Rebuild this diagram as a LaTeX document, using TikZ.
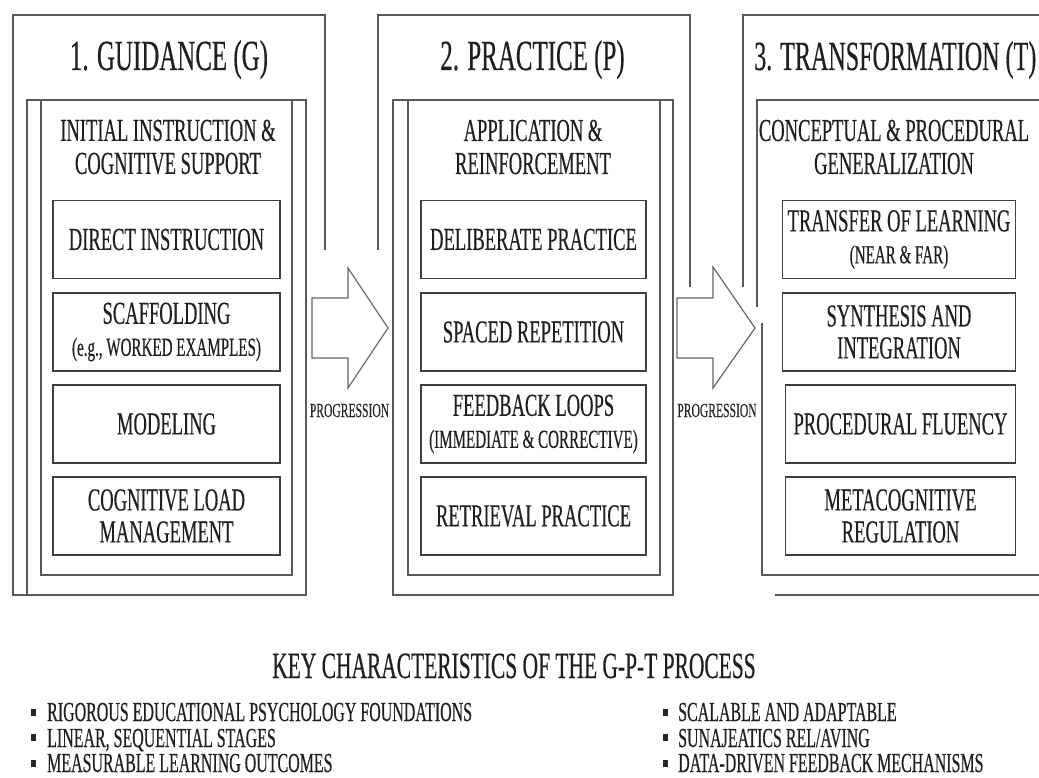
\documentclass[tikz,border=0pt]{standalone}
\usepackage{fontspec}
\setmainfont[FakeStretch=0.58,FakeBold=0.35]{Liberation Serif}
\newcommand\smallline[1]{{\fontsize{26}{32}\selectfont #1}}
\begin{document}
\begin{tikzpicture}[x=1pt,y=-1pt,
  frame/.style={draw=black!65,line width=1.5pt},
  arrowshape/.style={draw=black!60,line width=1.2pt,fill=white,line join=miter},
  sbox/.style={draw=black!75,line width=1.7pt,minimum height=78pt,inner sep=0pt,align=center,text=black!88,font=\fontsize{32}{32}\selectfont},
  title/.style={text=black!88,font=\fontsize{43}{43}\selectfont,inner sep=0pt},
  subhead/.style={text=black!88,font=\fontsize{32}{33}\selectfont,align=center,inner sep=0pt},
  prog/.style={text=black!85,font=\fontsize{20}{20}\selectfont,inner sep=0pt,anchor=base},
  keytitle/.style={font=\fontsize{37}{37}\selectfont,inner sep=0pt,text=black!88,anchor=base},
  item/.style={font=\fontsize{27.5}{27.5}\selectfont,inner sep=0pt,anchor=base west,text=black!88},
  bulletmark/.style={fill=black!85}
]
\useasboundingbox (0,0) rectangle (1039,778);
\fill[white] (0,0) rectangle (1039,778);

% ---------- column 1 frames
\draw[frame] (325,250) -- (325,15) -- (13,15) -- (13,595) -- (306,595);
\draw[frame] (27,100) rectangle (306,595);
\draw[frame] (41,100) rectangle (292,575);
% ---------- column 2 frames
\draw[frame] (378,250) -- (378,15) -- (690,15) -- (690,287);
\draw[frame] (393,100) rectangle (673,595);
\draw[frame] (408,100) rectangle (660,575);
% ---------- column 3 frames
\draw[frame] (743,287) -- (743,15) -- (1060,15);
\draw[frame] (757,307) -- (757,100) -- (1060,100);
\draw[frame] (762,323) -- (762,575) -- (1060,575);
\draw[frame] (775,595) -- (1060,595);

% ---------- progression arrows
\draw[arrowshape] (312,298) -- (348,298) -- (348,268) -- (388,328) -- (348,388) -- (348,358) -- (312,358) -- cycle;
\draw[arrowshape] (677,298) -- (713,298) -- (713,267) -- (755,328) -- (713,388) -- (713,358) -- (677,358) -- cycle;
\node[prog] (p1) at (349.5,417) {PROGRESSION};
\node[prog] (p2) at (717,417) {PROGRESSION};

% ---------- titles
\node[title,anchor=base] (t1) at (169,70) {1. GUIDANCE (G)};
\node[title,anchor=base] (t2) at (532.5,70) {2. PRACTICE (P)};
\node[title,anchor=base west,font=\fontsize{41.5}{42}\selectfont] (t3) at (754,70) {3. TRANSFORMATION (T)};

\node[subhead] (h1) at (168,147) {INITIAL INSTRUCTION \&\\COGNITIVE SUPPORT};
\node[subhead] (h2) at (533,147) {APPLICATION \&\\REINFORCEMENT};
\node[subhead] (h3) at (894,147) {CONCEPTUAL \& PROCEDURAL\\GENERALIZATION};

% ---------- column 1 boxes
\node[sbox,minimum width=227pt] (g1) at (166.5,239.5) {DIRECT INSTRUCTION};
\node[sbox,minimum width=227pt] (g2) at (166.5,332) {SCAFFOLDING\\\smallline{(e.g., WORKED EXAMPLES)}};
\node[sbox,minimum width=227pt] (g3) at (166.5,424) {MODELING};
\node[sbox,minimum width=227pt] (g4) at (166.5,516) {COGNITIVE LOAD\\MANAGEMENT};
% ---------- column 2 boxes
\node[sbox,minimum width=225pt] (q1) at (533.5,239.5) {DELIBERATE PRACTICE};
\node[sbox,minimum width=225pt] (q2) at (533.5,332) {SPACED REPETITION};
\node[sbox,minimum width=225pt] (q3) at (533.5,424) {FEEDBACK LOOPS\\\smallline{(IMMEDIATE \& CORRECTIVE)}};
\node[sbox,minimum width=225pt] (q4) at (533.5,516) {RETRIEVAL PRACTICE};
% ---------- column 3 boxes
\node[sbox,minimum width=233pt] (r1) at (899,239.5) {TRANSFER OF LEARNING\\\smallline{(NEAR \& FAR)}};
\node[sbox,minimum width=233pt] (r2) at (899,332) {SYNTHESIS AND\\INTEGRATION};
\node[sbox,minimum width=230pt] (r3) at (900.5,424) {PROCEDURAL FLUENCY};
\node[sbox,minimum width=230pt] (r4) at (900.5,516) {METACOGNITIVE\\REGULATION};

% ---------- key characteristics
\node[keytitle] (kt) at (514,678) {KEY CHARACTERISTICS OF THE G-P-T PROCESS};
\fill[bulletmark] (31,709) rectangle (35.5,716);
\fill[bulletmark] (31,734) rectangle (35.5,741);
\fill[bulletmark] (31,760) rectangle (35.5,767);
\node[item] (k1) at (47,721) {RIGOROUS EDUCATIONAL PSYCHOLOGY FOUNDATIONS};
\node[item] (k2) at (47,747) {LINEAR, SEQUENTIAL STAGES};
\node[item] (k3) at (47,772) {MEASURABLE LEARNING OUTCOMES};
\fill[bulletmark] (663,709) rectangle (667.5,716);
\fill[bulletmark] (663,734) rectangle (667.5,741);
\fill[bulletmark] (663,760) rectangle (667.5,767);
\node[item] (k4) at (678,721) {SCALABLE AND ADAPTABLE};
\node[item] (k5) at (678,747) {SUNAJEATICS REL/AVING};
\node[item] (k6) at (678,772) {DATA-DRIVEN FEEDBACK MECHANISMS};
\end{tikzpicture}
\end{document}
